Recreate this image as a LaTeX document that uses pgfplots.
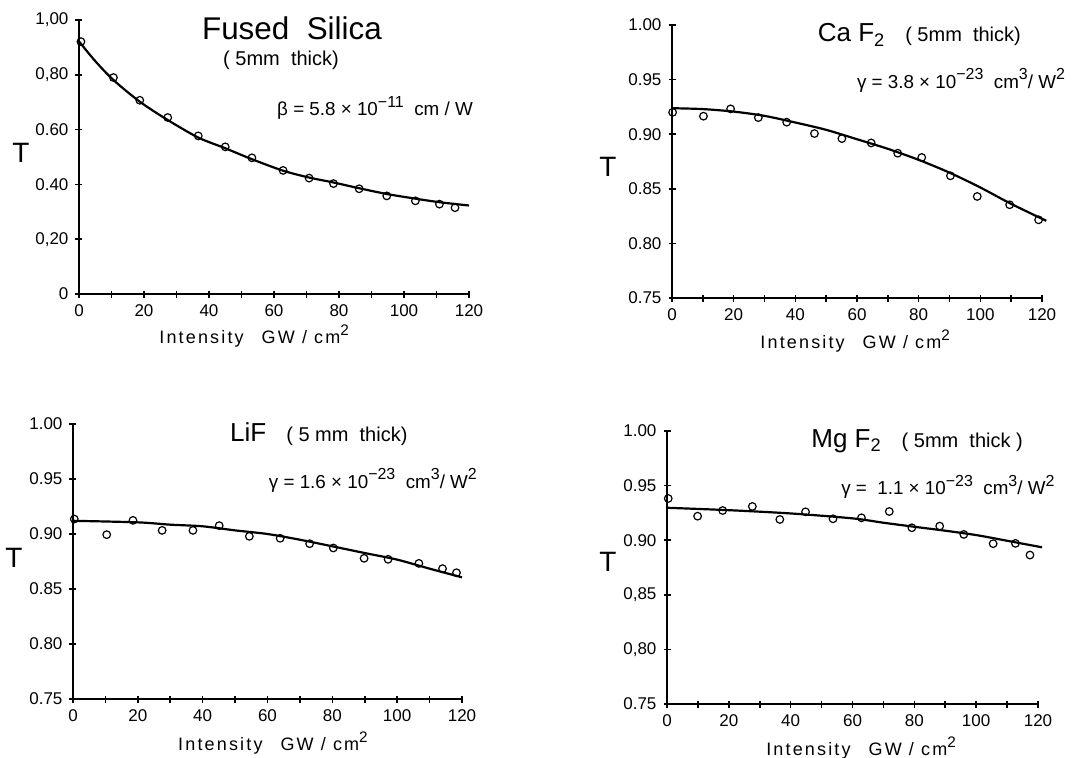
\documentclass[border=0pt]{standalone}
\usepackage{fontspec}
\setmainfont{Liberation Sans}
\usepackage{pgfplots}
\pgfplotsset{compat=1.18}

\newcommand{\tsz}{\fontsize{13}{15}\selectfont}
\newcommand{\msz}{\fontsize{10}{12}\selectfont}
\newcommand{\gsz}{\fontsize{9.4}{11}\selectfont}
% superscripts are almost full size in the original lettering
\newcommand{\up}[1]{\raisebox{0.45em}{\scalebox{0.85}{#1}}}
\newcommand{\xlab}{{\fontsize{9}{10}\selectfont\addfontfeature{LetterSpace=12}Intensity\quad GW / cm\up{2}}}

\pgfplotsset{
  panel/.style={
    scale only axis,
    axis lines=left,
    axis line style={-, line width=1.1pt},
    xmin=0, xmax=120,
    xtick={0,20,...,120},
    minor xtick={10,30,...,110},
    tick align=center,
    major tick length=3.5pt,
    minor tick length=3.5pt,
    tick style={black, line width=0.8pt},
    ticklabel style={font=\fontsize{8.5}{9}\selectfont},
    /pgf/number format/assume math mode=true,
    clip=false,
  },
  pts/.style={only marks, mark=o, mark size=1.9pt, mark options={line width=0.6pt}},
  fit/.style={smooth, line width=1.1pt, no marks},
}

\begin{document}
\begin{tikzpicture}
\useasboundingbox (0,0) rectangle (543.5pt,378.5pt);

% Fused silica
\begin{axis}[panel, at={(39.5pt,231.5pt)}, anchor=south west, width=195pt, height=137pt,
  ymin=0, ymax=1, ytick={0,0.2,0.4,0.6,0.8,1},
  yticklabels={0,{0,20},0.40,0.60,{0,80},{1,00}}]
\addplot[fit] coordinates {(0,0.922) (5,0.850) (10.6,0.781) (18.7,0.702) (27.3,0.635)
  (36.7,0.571) (45,0.532) (53.2,0.492) (62.8,0.450) (70.8,0.425) (78.3,0.407)
  (86.2,0.386) (94.7,0.365) (103.5,0.348) (110.9,0.335) (120,0.323)};
\addplot[pts] coordinates {(0.6,0.921) (10.6,0.790) (18.7,0.707) (27.3,0.644) (36.7,0.577)
  (45,0.537) (53.2,0.497) (62.8,0.451) (70.8,0.423) (78.3,0.403) (86.2,0.384)
  (94.7,0.358) (103.5,0.340) (110.9,0.328) (115.7,0.315)};
\node[font=\fontsize{15.7}{18}\selectfont] at (rel axis cs:0.546,0.971) {Fused\ \ Silica};
\node[font=\msz] at (rel axis cs:0.518,0.854) {( 5mm\ \ thick)};
\node[font=\gsz] at (rel axis cs:0.759,0.679) {β = 5.8 × 10\up{−11}\ \ cm / W};
\node[font=\fontsize{14}{16}\selectfont] at (rel axis cs:-0.149,0.515) {T};
\node at (rel axis cs:0.449,-0.155) {\xlab};
\end{axis}

% CaF2
\begin{axis}[panel, at={(336pt,229.5pt)}, anchor=south west, width=185pt, height=136.5pt,
  ymin=0.75, ymax=1, ytick={0.75,0.8,0.85,0.9,0.95,1},
  yticklabels={0.75,0.80,0.85,0.90,0.95,1.00}]
\addplot[fit] coordinates {(0,0.9238) (10,0.923) (20,0.9207) (30,0.9168) (40,0.9107)
  (50,0.904) (60,0.8954) (70,0.8866) (80,0.8765) (90,0.8648) (100,0.8512) (110,0.8362)
  (121.4,0.8207)};
\addplot[pts] coordinates {(0.2,0.920) (10.2,0.9165) (19,0.9232) (28,0.9152) (37.2,0.911)
  (46.2,0.9006) (55.1,0.896) (64.6,0.892) (73.2,0.8826) (81,0.8787) (90.3,0.8619)
  (99,0.843) (109.5,0.8354) (118.9,0.8216)};
\node[anchor=base west] at (rel axis cs:0.375,0.938)
  {{\tsz Ca F\textsubscript{2}}\quad{\msz( 5mm\ \ thick)}};
\node[font=\gsz, anchor=base] at (rel axis cs:0.781,0.769) {γ = 3.8 × 10\up{−23}\ \ cm\up{3}/ W\up{2}};
\node[font=\fontsize{14}{16}\selectfont] at (rel axis cs:-0.173,0.48) {T};
\node at (rel axis cs:0.495,-0.158) {\xlab};
\end{axis}

% LiF
\begin{axis}[panel, at={(36.5pt,29pt)}, anchor=south west, width=194.5pt, height=137.5pt,
  ymin=0.75, ymax=1, ytick={0.75,0.8,0.85,0.9,0.95,1},
  yticklabels={0.75,0.80,0.85,0.90,0.95,1.00}]
\addplot[fit] coordinates {(0,0.912) (20,0.9106) (30,0.9085) (40,0.907) (50,0.9033)
  (60,0.900) (70,0.8948) (80,0.8888) (90,0.8827) (100,0.8767) (110,0.8685) (120,0.8606)};
\addplot[pts] coordinates {(0.4,0.9136) (10.4,0.8994) (18.5,0.9124) (27.5,0.9033) (37,0.9033)
  (45.1,0.9076) (54.4,0.8979) (63.9,0.8961) (73,0.8912) (80.3,0.8873) (89.8,0.8779)
  (97.2,0.877) (106.7,0.8733) (114,0.8685) (118.3,0.8648)};
\node[anchor=base west] at (rel axis cs:0.386,0.938)
  {{\tsz LiF}\quad{\msz( 5 mm\ \ thick)}};
\node[font=\gsz, anchor=base] at (rel axis cs:0.771,0.767) {γ = 1.6 × 10\up{−23}\ \ cm\up{3}/ W\up{2}};
\node[font=\fontsize{14}{16}\selectfont] at (rel axis cs:-0.152,0.513) {T};
\node at (rel axis cs:0.514,-0.16) {\xlab};
\end{axis}

% MgF2
\begin{axis}[panel, at={(333.5pt,26.5pt)}, anchor=south west, width=185.5pt, height=136.5pt,
  ymin=0.75, ymax=1, ytick={0.75,0.8,0.85,0.9,0.95,1},
  yticklabels={0.75,{0,80},{0,85},0.90,0.95,1.00}]
\addplot[fit] coordinates {(0,0.9297) (20,0.9275) (40,0.9245) (60,0.920) (70,0.916)
  (80,0.9123) (90,0.9087) (100,0.9047) (110,0.8995) (121.3,0.8935)};
\addplot[pts] coordinates {(0.4,0.9382) (9.9,0.922) (18,0.9272) (27.6,0.9309) (36.5,0.919)
  (44.8,0.926) (53.7,0.9196) (62.9,0.9205) (71.9,0.9263) (79.2,0.9114) (88.2,0.9129)
  (96,0.9053) (105.5,0.8968) (112.7,0.8971) (117.4,0.8864)};
\node[anchor=base west] at (rel axis cs:0.37,0.941)
  {{\tsz Mg F\textsubscript{2}}\quad{\msz( 5mm\ \ thick )}};
\node[font=\gsz, anchor=base] at (rel axis cs:0.757,0.766) {γ = \ 1.1 × 10\up{−23}\ \ cm\up{3}/ W\up{2}};
\node[font=\fontsize{14}{16}\selectfont] at (rel axis cs:-0.159,0.52) {T};
\node at (rel axis cs:0.523,-0.161) {\xlab};
\end{axis}
\end{tikzpicture}
\end{document}
